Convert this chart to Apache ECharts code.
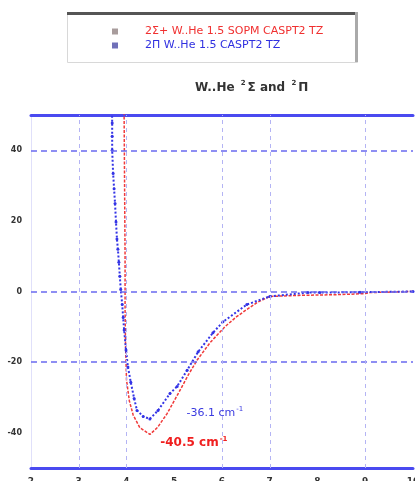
<!DOCTYPE html>
<html>
<head>
<meta charset="utf-8">
<script src="https://cdn.jsdelivr.net/npm/echarts@6/dist/echarts.min.js"></script>
<style>
  html, body { margin: 0; padding: 0; background: #fff; }
  #chart { width: 415px; height: 481px; }
</style>
</head>
<body>
<div id="chart"></div>
<script>
// W..He potential curves
var redR = [3.94, 3.95, 3.96, 3.97, 3.97, 3.98, 4.0, 4.06, 4.14, 4.28, 4.49, 4.65, 4.85, 5.1, 5.3, 5.48, 5.75, 6.06, 6.3, 6.52, 6.75, 7.0, 7.6, 8.4, 9.0, 9.1, 10];
var redE = [70, 50, 30, 10, -5, -15, -25, -31, -35, -38.6, -40.5, -38.5, -34.6, -28.5, -23.5, -19.4, -14.5, -10, -7.2, -5.1, -3, -1.4, -1.1, -0.9, -0.6, -0.3, 0];

var blueR = [3.69, 3.70, 3.70, 3.70, 3.72, 3.74, 3.76, 3.78, 3.80, 3.82, 3.84, 3.86, 3.88, 3.91, 3.93, 3.95, 3.99, 4.03, 4.09, 4.16, 4.22, 4.35, 4.49, 4.66, 4.91, 5.06, 5.27, 5.50, 5.81, 6.02, 6.52, 7.0, 7.8, 8.05, 8.89, 10];
var blueE = [60, 47.7, 44, 40, 33.4, 29.1, 24.9, 19.7, 14.9, 12, 8.3, 4.3, 0.6, -3.7, -7.4, -10.9, -16.6, -21.4, -25.7, -30.3, -33.7, -35.4, -36.1, -33.7, -28.9, -26.9, -22.3, -17.1, -11.7, -8.6, -3.7, -1.4, -0.3, -0.3, -0.2, 0];

var xTicks = [2, 3, 4, 5, 6, 7, 8, 9, 10];
var yLabels = [40, 20, 0, -20, -40];
var hGrid = [40, 0, -20];
var vGrid = [3, 4, 6, 7, 9];

var redName = '2Σ+ W..He 1.5 SOPM CASPT2 TZ';
var blueName = '2Π W..He 1.5 CASPT2 TZ';

var redMin = [5.41, -42.9];
var blueMin = [5.85, -34.6];

function pairs(xs, ys) {
  return xs.map(function(x, i) { return [x, ys[i]]; });
}

var chart = echarts.init(document.getElementById('chart'), null, { renderer: 'canvas' });

var blueAxis = '#4a4af0';

chart.setOption({
  animation: false,
  textStyle: { fontFamily: 'DejaVu Sans, sans-serif' },
  title: {
    text: '{t|W..He }{s|2}{t|Σ and }{s|2}{t|Π}',
    left: 190,
    top: 75,
    textStyle: {
      rich: {
        t: { fontSize: 12, fontWeight: 'bold', color: '#333' },
        s: { fontSize: 7, fontWeight: 'bold', color: '#333', padding: [0, 2, 8, 2] }
      }
    }
  },
  graphic: [
    { type: 'rect', left: 67, top: 12, shape: { width: 290, height: 50 },
      style: { fill: '#fff', stroke: '#d8d8d8', lineWidth: 1 }, z: -1 },
    { type: 'rect', left: 67, top: 12, shape: { width: 290, height: 3 },
      style: { fill: '#555' }, z: -1 },
    { type: 'rect', left: 355, top: 12, shape: { width: 3, height: 50 },
      style: { fill: '#aaa' }, z: -1 }
  ],
  legend: {
    orient: 'vertical',
    left: 107,
    top: 21,
    itemGap: 3,
    itemWidth: 6,
    itemHeight: 6,
    icon: 'rect',
    data: [
      { name: redName, itemStyle: { color: '#a89c9c' }, textStyle: { color: '#f03030' } },
      { name: blueName, itemStyle: { color: '#7070b8' }, textStyle: { color: '#3030e0' } }
    ],
    textStyle: { fontSize: 11, padding: [0, 0, 0, 22] }
  },
  grid: { left: 31, right: 2, top: 115, bottom: 13, containLabel: false, outerBoundsMode: 'none' },
  xAxis: [
    {
      type: 'value', min: xTicks[0], max: xTicks[xTicks.length - 1], interval: 1,
      axisLine: { onZero: false, lineStyle: { color: blueAxis, width: 3 } },
      axisTick: { show: false },
      axisLabel: { color: '#333', fontSize: 9, fontWeight: 'bold', margin: 9 },
      splitLine: { show: false }
    },
    {
      type: 'value', position: 'top', min: xTicks[0], max: xTicks[xTicks.length - 1],
      axisLine: { onZero: false, lineStyle: { color: blueAxis, width: 3 } },
      axisTick: { show: false }, axisLabel: { show: false }, splitLine: { show: false }
    }
  ],
  yAxis: {
    type: 'value', min: -50, max: 50, interval: 10,
    axisLine: { show: true, onZero: false, lineStyle: { color: '#e0e0fa', width: 1 } },
    axisTick: { show: false },
    axisLabel: {
      color: '#333', fontSize: 8, fontWeight: 'bold', margin: 9,
      formatter: function(v) { return yLabels.indexOf(v) >= 0 ? String(v) : ''; }
    },
    splitLine: { show: false }
  },
  series: [
    {
      name: redName,
      type: 'line',
      data: pairs(redR, redE),
      showSymbol: false,
      lineStyle: { color: '#f03a3a', width: 1.5, type: [3, 1.5] },
      itemStyle: { color: '#f03a3a' },
      z: 3,
      markLine: {
        silent: true, symbol: 'none', label: { show: false },
        lineStyle: { color: '#6a6af0', width: 1.5, type: [6, 4] },
        data: hGrid.map(function(v) { return { yAxis: v }; })
      },
      markPoint: {
        symbol: 'circle', symbolSize: 0,
        label: {
          show: true, position: 'inside',
          formatter: '{a|-40.5 cm}{s|-1}',
          rich: {
            a: { fontSize: 12, fontWeight: 'bold', color: '#f02020' },
            s: { fontSize: 7, fontWeight: 'bold', color: '#f02020', padding: [0, 0, 8, 1] }
          }
        },
        data: [{ coord: redMin }]
      }
    },
    {
      name: blueName,
      type: 'line',
      data: pairs(blueR, blueE),
      showSymbol: true,
      symbol: 'circle',
      symbolSize: 3,
      lineStyle: { color: '#3434e6', width: 2, type: 'dotted' },
      itemStyle: { color: '#3434e6' },
      z: 4,
      markLine: {
        silent: true, symbol: 'none', label: { show: false },
        lineStyle: { color: '#b4b4f4', width: 1, type: [4, 4] },
        data: vGrid.map(function(v) { return { xAxis: v }; })
      },
      markPoint: {
        symbol: 'circle', symbolSize: 0,
        label: {
          show: true, position: 'inside',
          formatter: '{a|-36.1 cm}{s|-1}',
          rich: {
            a: { fontSize: 11, color: '#3a3ae0' },
            s: { fontSize: 7, color: '#3a3ae0', padding: [0, 0, 8, 1] }
          }
        },
        data: [{ coord: blueMin }]
      }
    }
  ]
});
</script>
</body>
</html>
